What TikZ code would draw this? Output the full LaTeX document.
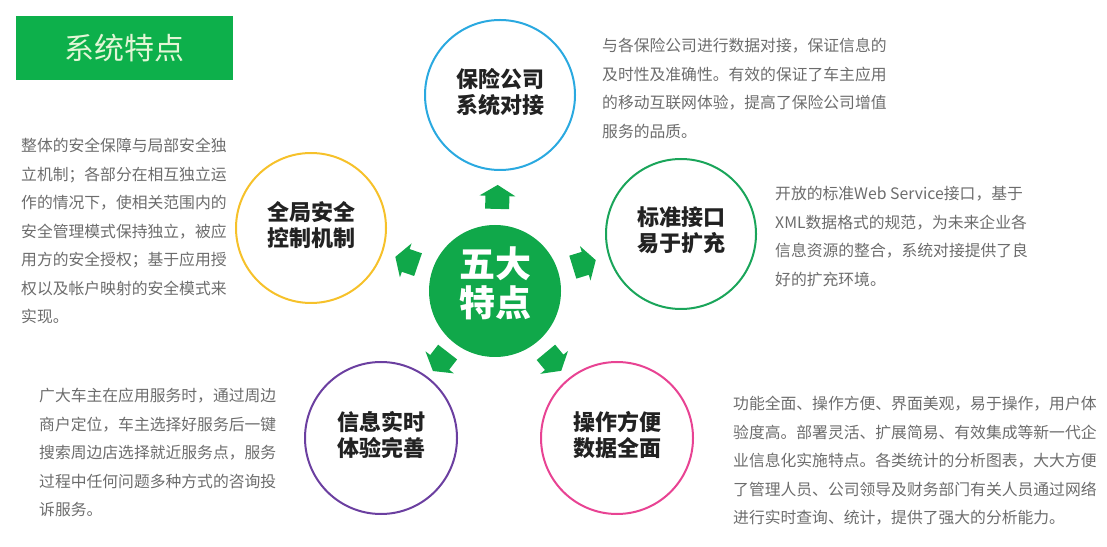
\documentclass[tikz,border=0pt]{standalone}
\usepackage{fontspec}
\setmainfont{Noto Sans CJK SC}
\usetikzlibrary{calc}

\definecolor{titlegreen}{RGB}{13,176,75}
\definecolor{titletext}{RGB}{226,246,214}
\definecolor{hubgreen}{RGB}{16,168,74}
\definecolor{insblue}{RGB}{42,169,224}
\definecolor{secyellow}{RGB}{246,193,42}
\definecolor{stdgreen}{RGB}{26,165,90}
\definecolor{exppurple}{RGB}{107,63,160}
\definecolor{opspink}{RGB}{232,67,147}
\definecolor{labelblack}{RGB}{34,34,34}
\definecolor{descgray}{RGB}{108,108,108}

\tikzset{
  feat/.style={circle, line width=2pt, minimum size=150pt, inner sep=0pt,
    align=center, text=labelblack, text depth=9pt,
    font=\bfseries\fontsize{22}{26}\selectfont},
  desc/.style={anchor=north west, inner sep=0pt, align=left, text=descgray,
    font=\fontsize{15.8}{28.5}\selectfont},
}

\begin{document}
\begin{tikzpicture}[x=1pt,y=1pt]
  \useasboundingbox (0,0) rectangle (1107,546);
  % title
  \node[fill=titlegreen, minimum width=217pt, minimum height=64pt, inner sep=0pt,
    text=titletext, font=\fontsize{30}{30}\selectfont] (title) at (124.5,498) {系统特点};
  % centre disc
  \node[circle, fill=hubgreen, minimum size=132pt, inner sep=0pt, align=center,
    text=white, text depth=18pt,
    font=\bfseries\fontsize{36}{39}\selectfont] (hub) at (495,255) {五大\\特点};
  % the five features
  \node[feat, draw=insblue]   (ins) at (500,451) {保险公司\\系统对接};
  \node[feat, draw=secyellow] (sec) at (311,318) {全局安全\\控制机制};
  \node[feat, draw=stdgreen]  (std) at (681,312) {标准接口\\易于扩充};
  \node[feat, draw=exppurple, minimum size=152pt] (exp) at (381,108) {信息实时\\体验完善};
  \node[feat, draw=opspink, minimum size=152pt]   (ops) at (617,108) {操作方便\\数据全面};
  % block arrows from the hub
  \foreach \nm in {ins,sec,std,exp,ops}{
    \pgfmathanglebetweenpoints{\pgfpointanchor{hub}{center}}{\pgfpointanchor{\nm}{center}}
    \let\arrang\pgfmathresult
    \fill[hubgreen, shift={($(hub)!0.48!(\nm)$)}, rotate=\arrang]
      (-12,-12) -- (1,-12) -- (1,-18) -- (12,0) -- (1,18) -- (1,12) -- (-12,12) -- cycle;
  }
  % descriptions
  \node[desc] (insdesc) at (602,508) {与各保险公司进行数据对接，保证信息的\\
    及时性及准确性。有效的保证了车主应用\\
    的移动互联网体验，提高了保险公司增值\\
    服务的品质。};
  \node[desc] (secdesc) at (21,408) {整体的安全保障与局部安全独\\
    立机制；各部分在相互独立运\\
    作的情况下，使相关范围内的\\
    安全管理模式保持独立，被应\\
    用方的安全授权；基于应用授\\
    权以及帐户映射的安全模式来\\
    实现。};
  \node[desc] (stddesc) at (775,360) {开放的标准Web Service接口，基于\\
    XML数据格式的规范，为未来企业各\\
    信息资源的整合，系统对接提供了良\\
    好的扩充环境。};
  \node[desc] (expdesc) at (39,158) {广大车主在应用服务时，通过周边\\
    商户定位，车主选择好服务后一键\\
    搜索周边店选择就近服务点，服务\\
    过程中任何问题多种方式的咨询投\\
    诉服务。};
  \node[desc] (opsdesc) at (733,150) {功能全面、操作方便、界面美观，易于操作，用户体\\
    验度高。部署灵活、扩展简易、有效集成等新一代企\\
    业信息化实施特点。各类统计的分析图表，大大方便\\
    了管理人员、公司领导及财务部门有关人员通过网络\\
    进行实时查询、统计，提供了强大的分析能力。};
\end{tikzpicture}
\end{document}
